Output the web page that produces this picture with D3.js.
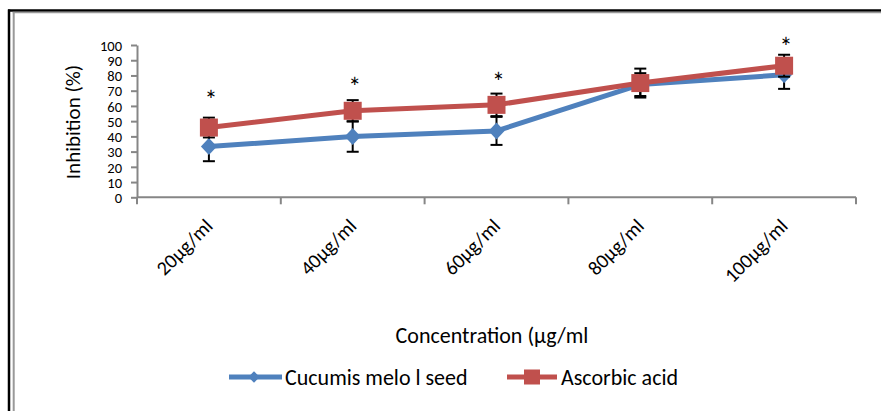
<!DOCTYPE html>
<html lang="en">
<head>
    <meta charset="utf-8">
    <title>Inhibition chart</title>
    <script type="text/javascript" src="https://cdn.jsdelivr.net/npm/d3@7"></script>
    <style>
        body { margin: 0; background: #fff; }
        text { font-family: Carlito, Calibri, Lato, sans-serif; fill: #000; }
        .axis path, .axis line { stroke: #868686; stroke-width: 2; }
        .ytick text { font-size: 14.5px; }
        .xtick text { font-size: 20px; }
    </style>
</head>
<body>
<div id="container"></div>
<script type="text/javascript">
    // data
    const categories = ["20µg/ml", "40µg/ml", "60µg/ml", "80µg/ml", "100µg/ml"];
    const cucumis = [33.3, 39.9, 43.6, 74, 80.4];
    const cucumisErr = [9.6, 10, 9.2, 7.5, 9.2];
    const ascorbic = [45.8, 56.8, 60.7, 75, 86.4];
    const ascorbicErr = [6.5, 7, 7.4, 9.5, 7.2];
    // asterisk marks (category, height in %)
    const starCats = ["20µg/ml", "40µg/ml", "60µg/ml", "100µg/ml"];
    const starHeights = [67.2, 75.5, 79.2, 102.2];
    const yTicks = [0, 10, 20, 30, 40, 50, 60, 70, 80, 90, 100];

    const w = 881, h = 411;
    const svg = d3.select("div#container").append("svg")
        .attr("width", w).attr("height", h);

    // outer frame
    svg.append("line").attr("x1", 9).attr("x2", 9).attr("y1", 9.5).attr("y2", h)
        .attr("stroke", "#000").attr("stroke-width", 2.5);
    svg.append("line").attr("x1", 8).attr("x2", w).attr("y1", 10.5).attr("y2", 10.5)
        .attr("stroke", "#000").attr("stroke-width", 2.5);
    svg.append("line").attr("x1", 13.7).attr("x2", 13.7).attr("y1", 12).attr("y2", h)
        .attr("stroke", "#999").attr("stroke-width", 2);
    svg.append("line").attr("x1", 12.7).attr("x2", w).attr("y1", 12.5).attr("y2", 12.5)
        .attr("stroke", "#999").attr("stroke-width", 1.5);

    const x = d3.scaleBand().domain(categories).range([137, 856]);
    const y = d3.scaleLinear().domain([0, 100]).range([197.3, 45]);
    const cx = d => x(d) + x.bandwidth() / 2;

    // y axis
    const yAxis = svg.append("g").attr("class", "axis ytick")
        .attr("transform", "translate(137,0)")
        .call(d3.axisLeft(y).tickValues(yTicks).tickSize(6).tickPadding(9).tickSizeOuter(0));
    yAxis.selectAll("text").attr("dy", "0.36em");

    // x axis with ticks at category borders
    const xg = svg.append("g").attr("class", "axis xtick")
        .attr("transform", "translate(0," + y(0) + ")");
    xg.append("line").attr("x1", 137).attr("x2", 856).attr("y1", 0).attr("y2", 0);
    xg.selectAll("line.tk").data(categories.concat(["end"])).enter().append("line")
        .attr("class", "tk")
        .attr("x1", (d, i) => 137 + i * x.bandwidth())
        .attr("x2", (d, i) => 137 + i * x.bandwidth())
        .attr("y1", 0).attr("y2", 7);
    xg.selectAll("text").data(categories).enter().append("text")
        .attr("text-anchor", "end")
        .attr("transform", d => "translate(" + (cx(d) + 5) + ",30) rotate(-45)")
        .text(d => d);

    // axis titles
    svg.append("text")
        .attr("transform", "translate(80,122) rotate(-90)")
        .attr("text-anchor", "middle")
        .style("font-size", "21px")
        .text("Inhibition (%)");
    svg.append("text")
        .attr("x", 492).attr("y", 343)
        .attr("text-anchor", "middle")
        .style("font-size", "22px")
        .text("Concentration (µg/ml");

    const line = d3.line().x((d, i) => cx(categories[i])).y(d => y(d));
    const diamond = d3.symbol().type(d3.symbolSquare).size(128);

    function drawSeries(vals, errs, color, shape) {
        svg.append("path").datum(vals)
            .attr("d", line).attr("fill", "none")
            .attr("stroke", color).attr("stroke-width", 5)
            .attr("stroke-linejoin", "round");
        const eb = svg.append("g").attr("stroke", "#000").attr("stroke-width", 2);
        vals.forEach(function (v, i) {
            const px = cx(categories[i]);
            eb.append("line").attr("x1", px).attr("x2", px)
                .attr("y1", y(v - errs[i])).attr("y2", y(v + errs[i]));
            [v - errs[i], v + errs[i]].forEach(function (e) {
                eb.append("line").attr("x1", px - 6).attr("x2", px + 6)
                    .attr("y1", y(e)).attr("y2", y(e));
            });
        });
        if (shape === "diamond") {
            svg.selectAll(null).data(vals).enter().append("path")
                .attr("d", diamond)
                .attr("transform", (d, i) => "translate(" + cx(categories[i]) + "," + y(d) + ") scale(1,1.06) rotate(45)")
                .attr("fill", color);
        } else {
            svg.selectAll(null).data(vals).enter().append("rect")
                .attr("x", (d, i) => cx(categories[i]) - 9)
                .attr("y", d => y(d) - 9)
                .attr("width", 18).attr("height", 18)
                .attr("fill", color);
        }
    }
    drawSeries(cucumis, cucumisErr, "#4F81BD", "diamond");
    drawSeries(ascorbic, ascorbicErr, "#C0504D", "square");

    // significance marks
    svg.selectAll("text.star").data(starCats).enter().append("text")
        .attr("class", "star")
        .attr("x", d => cx(d) + 2)
        .attr("y", (d, i) => y(starHeights[i]) + 14)
        .attr("text-anchor", "middle")
        .style("font-size", "26px")
        .text("*");

    // legend
    const legend = svg.append("g").attr("transform", "translate(0,377)");
    legend.append("line").attr("x1", 229).attr("x2", 282).attr("stroke", "#4F81BD").attr("stroke-width", 5);
    legend.append("path").attr("d", d3.symbol().type(d3.symbolSquare).size(64))
        .attr("transform", "translate(254,0) rotate(45)").attr("fill", "#4F81BD");
    legend.append("text").attr("x", 285).attr("y", 8).style("font-size", "22px").text("Cucumis melo l seed");
    legend.append("line").attr("x1", 507).attr("x2", 557).attr("stroke", "#C0504D").attr("stroke-width", 5);
    legend.append("rect").attr("x", 524).attr("y", -7.5).attr("width", 16).attr("height", 15).attr("fill", "#C0504D");
    legend.append("text").attr("x", 561).attr("y", 8).style("font-size", "22px").text("Ascorbic acid");
</script>
</body>
</html>
